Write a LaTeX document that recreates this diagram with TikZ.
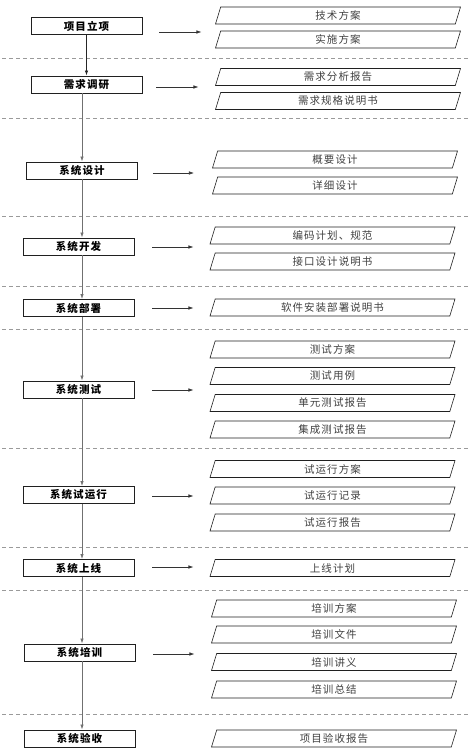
\documentclass[tikz,border=0pt]{standalone}
\usepackage{fontspec}
\usepackage{tikz}
\usetikzlibrary{shapes.geometric, arrows.meta, positioning, calc}
\newfontfamily\cjk{Noto Sans CJK SC}[LetterSpace=10]
\definecolor{boxline}{HTML}{202020}
\definecolor{flowgray}{HTML}{707070}
\definecolor{sepgray}{HTML}{9A9A9A}

\begin{document}
\begin{tikzpicture}[x=1pt, y=-1pt,
    stage/.style={draw=boxline, line width=0.9pt, minimum width=111pt, minimum height=17pt,
      inner sep=0pt, font=\cjk\bfseries\fontsize{10.5}{11}\selectfont},
    doc/.style={draw=boxline, line width=0.6pt, trapezium, trapezium left angle=62,
      trapezium right angle=118, trapezium stretches body, minimum width=245pt,
      minimum height=17pt, inner sep=0pt, text=black!75, font=\cjk\fontsize{10.5}{11}\selectfont},
    flow/.style={flowgray, line width=0.8pt, -{Latex[length=5pt, width=3.5pt]}},
    outarr/.style={black!80, line width=0.6pt, -{Latex[length=5pt, width=3.5pt]}},
    sep/.style={sepgray, line width=0.6pt, dash pattern=on 4pt off 3pt}]
  \useasboundingbox (0,0) rectangle (474,750);

  % Phase separators
  \foreach \y in {58,118,216,286,329,448,547,590,714}
    \draw[sep] (2,\y) -- (468,\y);

  % Stages
  \node[stage] (lixiang)    at (86.5,26)   {项目立项};
  \node[stage] (xuqiu)      at (86.5,84.5) {需求调研};
  \node[stage] (sheji)      at (82,170.5)  {系统设计};
  \node[stage] (kaifa)      at (78.5,246.5) {系统开发};
  \node[stage] (bushu)      at (78.5,308)  {系统部署};
  \node[stage] (ceshi)      at (78.5,389.5) {系统测试};
  \node[stage] (shiyunxing) at (78.5,495)  {系统试运行};
  \node[stage] (shangxian)  at (78.5,568)  {系统上线};
  \node[stage] (peixun)     at (79.5,652.5) {系统培训};
  \node[stage] (yanshou)    at (79.5,738.5) {系统验收};

  % Main flow
  \draw[flow, black!85] (lixiang) -- (xuqiu);
  \foreach \a/\b in {xuqiu/sheji, sheji/kaifa, kaifa/bushu, bushu/ceshi, ceshi/shiyunxing,
      shiyunxing/shangxian, shangxian/peixun, peixun/yanshou}
    \draw[flow] (\a.south -| sheji) -- (\b.north -| sheji);

  % Documents of each stage
  \foreach \x/\y/\t [count=\i] in {
      338/15.5/技术方案, 338/39.5/实施方案,
      338/77/需求分析报告, 338/101/需求规格说明书,
      335/159.5/概要设计, 335/185.5/详细设计,
      332.5/235.5/编码计划、规范, 332.5/261.5/接口设计说明书,
      332.5/307.5/软件安装部署说明书,
      332.5/349.5/测试方案, 332.5/376/测试用例, 332.5/403/单元测试报告, 332.5/429.5/集成测试报告,
      332.5/469/试运行方案, 332.5/495.5/试运行记录, 332.5/522.5/试运行报告,
      332.5/568/上线计划,
      334/608.5/培训方案, 334/634.5/培训文件, 334/662/培训讲义, 334/689.5/培训总结,
      334/738.5/项目验收报告}
    \node[doc] (doc\i) at (\x,\y) {\t};

  % Stage to documents
  \draw[outarr] ([shift={(17,6)}]lixiang.east) -- ++(42,0);
  \draw[outarr] ([shift={(14,2.5)}]xuqiu.east) -- ++(42,0);
  \draw[outarr] ([shift={(15,2.5)}]sheji.east) -- ++(41,0);
  \foreach \s/\dy in {kaifa/0.5, bushu/0, ceshi/0.5, shiyunxing/1, shangxian/-1, peixun/1.5}
    \draw[outarr] ([shift={(18,\dy)}]\s.east) -- ++(41,0);
\end{tikzpicture}
\end{document}
